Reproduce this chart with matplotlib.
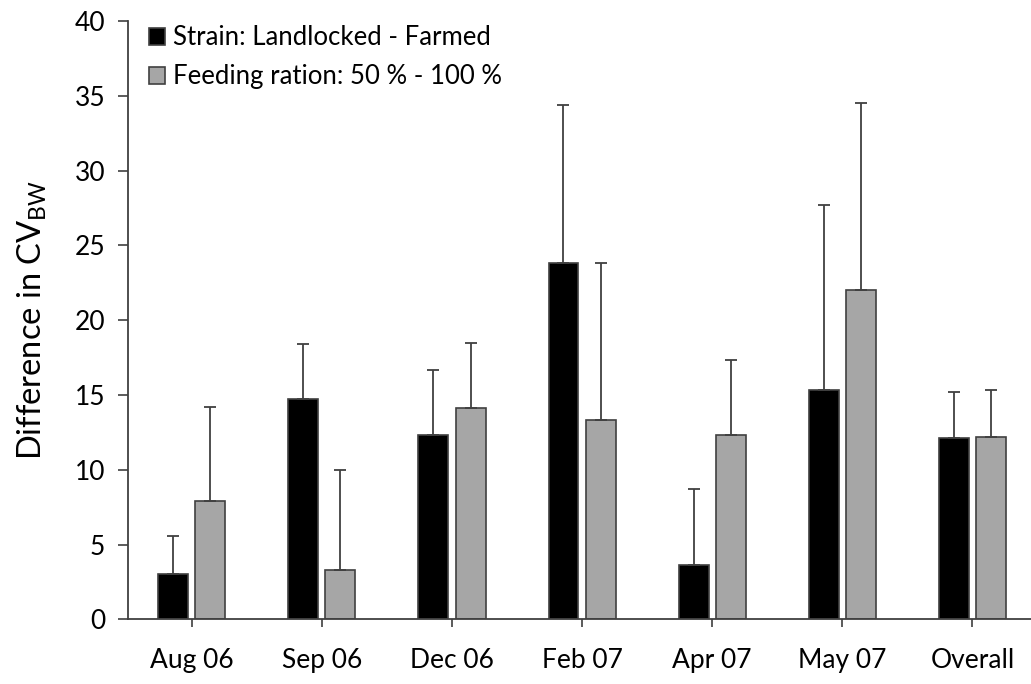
import matplotlib
matplotlib.use("Agg")
import matplotlib.pyplot as plt
import numpy as np

categories = ["Aug 06", "Sep 06", "Dec 06", "Feb 07", "Apr 07", "May 07", "Overall"]
strain_vals = [3.0, 14.7, 12.3, 23.8, 3.6, 15.3, 12.1]
strain_err = [2.6, 3.7, 4.35, 10.6, 5.1, 12.4, 3.1]
ration_vals = [7.9, 3.3, 14.1, 13.3, 12.3, 22.0, 12.2]
ration_err = [6.3, 6.65, 4.35, 10.5, 5.05, 12.5, 3.1]

plt.rcParams["font.family"] = ["Lato", "DejaVu Sans"]
plt.rcParams["mathtext.fontset"] = "custom"
plt.rcParams["mathtext.rm"] = "Lato"

edge = "#404040"
fig = plt.figure(figsize=(10.31, 6.84), dpi=100)
ax = fig.add_axes([0.1241, 0.0946, 0.8759, 0.8747])

x = np.arange(len(categories))
w = 0.23
off = 0.143
err_kw = dict(ecolor=edge, elinewidth=1.3, capsize=4.3, capthick=1.3)
ax.bar(x - off, strain_vals, w, color="black", edgecolor=edge, linewidth=1.2,
       yerr=[np.zeros(len(x)), strain_err], error_kw=err_kw,
       label="Strain: Landlocked - Farmed")
ax.bar(x + off, ration_vals, w, color="#a6a6a6", edgecolor=edge, linewidth=1.2,
       yerr=[np.zeros(len(x)), ration_err], error_kw=err_kw,
       label="Feeding ration: 50 % - 100 %")

ax.set_xlim(-0.49, 6.45)
ax.set_ylim(0, 40)
ax.set_yticks(np.arange(0, 41, 5))
ax.set_xticks(x)
ax.set_xticklabels(categories)
ax.tick_params(axis="both", direction="out", color=edge, width=1.2, labelsize=19)
ax.tick_params(axis="y", length=7.5, pad=9)
ax.tick_params(axis="x", length=6, pad=15)
for s in ["top", "right"]:
    ax.spines[s].set_visible(False)
for s in ["left", "bottom"]:
    ax.spines[s].set_color(edge)
    ax.spines[s].set_linewidth(1.3)

ax.set_ylabel(r"Difference in CV$_{\mathrm{BW}}$", fontsize=23.5, labelpad=18)

ax.legend(loc="upper left", bbox_to_anchor=(0.012, 1.01), frameon=False,
          fontsize=18.5, handlelength=0.62, handleheight=0.62, handletextpad=0.3,
          labelspacing=0.55, borderaxespad=0)

fig.savefig("out.png", dpi=100)
